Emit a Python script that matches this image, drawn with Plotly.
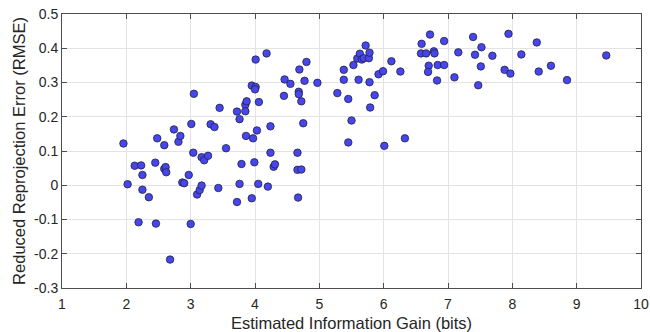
import plotly.graph_objects as go

info_gain = [1.955, 2.02, 2.13, 2.23, 2.25, 2.25, 2.19, 2.35, 2.45, 2.48, 2.46, 2.59, 2.59, 2.61, 2.62, 2.68,
             2.74, 2.81, 2.84, 2.87, 2.90, 2.97, 3.01, 3.00, 3.04, 3.05, 3.10, 3.14, 3.17, 3.17, 3.21, 3.27,
             3.31, 3.37, 3.43, 3.45, 3.55, 3.72, 3.72, 3.76, 3.76, 3.79, 3.85, 3.85, 3.87, 3.86, 3.95, 3.95,
             3.97, 3.99, 4.01, 4.01, 4.00, 4.03, 4.05, 4.06, 4.18, 4.20, 4.24, 4.24, 4.29, 4.31, 4.45, 4.46,
             4.55, 4.66, 4.66, 4.67, 4.68, 4.68, 4.69, 4.72, 4.72, 4.75, 4.77, 4.80, 4.97, 5.28, 5.38, 5.38,
             5.45, 5.45, 5.50, 5.53, 5.59, 5.63, 5.66, 5.69, 5.72, 5.61, 5.77, 5.78, 5.78, 5.79, 5.86, 5.92,
             5.99, 6.01, 6.12, 6.26, 6.33, 6.58, 6.59, 6.66, 6.70, 6.69, 6.72, 6.78, 6.79, 6.83, 6.84, 6.94,
             6.94, 7.10, 7.16, 7.39, 7.42, 7.47, 7.51, 7.52, 7.69, 7.88, 7.94, 7.97, 8.14, 8.38, 8.41, 8.60,
             8.85, 9.46]
rmse = [0.122, 0.003, 0.057, 0.058, 0.030, -0.013, -0.108, -0.035, 0.066, 0.137, -0.112, 0.117, 0.048, 0.053,
        0.038, -0.217, 0.163, 0.127, 0.144, 0.008, 0.006, 0.030, 0.179, -0.113, 0.095, 0.267, -0.027, -0.014,
        -0.001, 0.082, 0.073, 0.086, 0.178, 0.170, -0.008, 0.226, 0.108, -0.049, 0.215, 0.193, 0.004, 0.062,
        0.235, 0.216, 0.245, 0.144, -0.038, 0.291, 0.137, 0.067, 0.367, 0.287, 0.280, 0.160, 0.004, 0.243,
        0.385, -0.004, 0.172, 0.095, 0.054, 0.061, 0.261, 0.309, 0.296, 0.095, 0.045, -0.036, 0.273, 0.266,
        0.338, 0.046, 0.245, 0.181, 0.305, 0.360, 0.299, 0.269, 0.337, 0.308, 0.252, 0.125, 0.189, 0.351,
        0.370, 0.384, 0.367, 0.371, 0.408, 0.308, 0.371, 0.387, 0.301, 0.227, 0.263, 0.324, 0.333, 0.115,
        0.362, 0.332, 0.137, 0.385, 0.413, 0.385, 0.349, 0.331, 0.440, 0.391, 0.385, 0.306, 0.351, 0.421,
        0.351, 0.315, 0.388, 0.433, 0.381, 0.292, 0.347, 0.403, 0.378, 0.337, 0.442, 0.326, 0.382, 0.417,
        0.332, 0.349, 0.307, 0.379]

x_ticks = [1, 2, 3, 4, 5, 6, 7, 8, 9, 10]
y_ticks = [-0.3, -0.2, -0.1, 0, 0.1, 0.2, 0.3, 0.4, 0.5]
y_tick_labels = ["-0.3", "-0.2", "-0.1", "0", "0.1", "0.2", "0.3", "0.4", "0.5"]

fig = go.Figure()
fig.add_trace(go.Scatter(
    x=info_gain, y=rmse, mode="markers",
    marker=dict(size=7.5, color="#4646EC", line=dict(color="#222244", width=0.8)),
    showlegend=False,
))

font_family = "Liberation Sans, Arial, sans-serif"
axis_common = dict(
    automargin=False,
    showline=True, linecolor="#4d4d4d", linewidth=1, mirror="ticks",
    ticks="inside", ticklen=5, tickcolor="#4d4d4d",
    showgrid=True, gridcolor="#e3e3e3", gridwidth=1, zeroline=False,
    tickfont=dict(family=font_family, size=14, color="#262626"),
)
fig.update_xaxes(range=[1, 10], tickvals=x_ticks, ticklabelstandoff=3,
                 title=dict(text="Estimated Information Gain (bits)",
                            font=dict(family=font_family, size=16.5, color="#262626"), standoff=7),
                 **axis_common)
fig.update_yaxes(range=[-0.3, 0.5], tickvals=y_ticks, ticktext=y_tick_labels,
                 title=dict(text="Reduced Reprojection Error (RMSE)",
                            font=dict(family=font_family, size=16.5, color="#262626"), standoff=4),
                 **axis_common)
fig.update_layout(
    width=650, height=332,
    margin=dict(l=62, r=9, t=14, b=44, autoexpand=False),
    plot_bgcolor="white", paper_bgcolor="white",
)
fig.write_html("out.html", config={"displayModeBar": False},
               post_script="document.body.style.margin='0';document.body.style.overflow='hidden';")
